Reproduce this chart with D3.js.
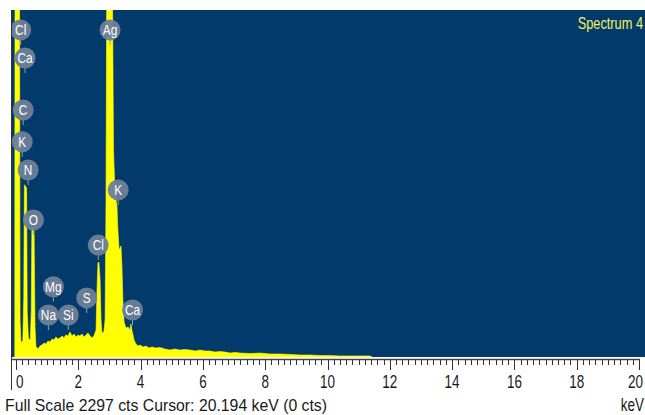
<!DOCTYPE html>
<html>
<head>
<meta charset="utf-8">
<script src="https://cdn.jsdelivr.net/npm/d3@7/dist/d3.min.js"></script>
<style>
  html, body { margin: 0; padding: 0; background: #ffffff; }
  svg { display: block; }
  text { font-family: "Liberation Sans", Arial, sans-serif; }
</style>
</head>
<body>
<svg id="chart" width="645" height="415"></svg>
<script>
// EDS spectrum: energy (keV) and counts
const energyKeV = [
  -0.04, -0.03, 0.11, 0.13, 0.16, 0.22, 0.25, 0.27, 0.34, 0.36, 0.40, 0.46, 0.49, 0.51, 0.58, 0.61, 0.64,
  0.71, 0.77, 0.83, 0.90, 0.96, 1.03, 1.09, 1.16, 1.22, 1.28, 1.35, 1.41, 1.48, 1.54, 1.60, 1.67, 1.73,
  1.80, 1.86, 1.93, 1.99, 2.05, 2.12, 2.18, 2.25, 2.31, 2.38, 2.44, 2.50, 2.57, 2.60, 2.63, 2.66, 2.70,
  2.73, 2.76, 2.82, 2.86, 2.89, 2.92, 3.08, 3.13, 3.18, 3.24, 3.27, 3.31, 3.34, 3.37, 3.40, 3.43, 3.47,
  3.53, 3.60, 3.65, 3.69, 3.72, 3.79, 3.85, 3.92, 3.98, 4.08, 4.17, 4.27, 4.37, 4.49, 4.62, 4.78, 4.94,
  5.10, 5.26, 5.42, 5.59, 5.75, 5.91, 6.07, 6.23, 6.39, 6.55, 6.71, 6.87, 7.03, 7.19, 7.51, 7.83, 8.15,
  8.48, 8.80, 9.12, 9.44, 9.76, 10.08, 10.40, 10.72, 11.04, 11.36, 11.43
];
const counts = [
  0, 3000, 3000, 240, 95, 110, 400, 1140, 1120, 300, 120, 115, 300, 860, 850, 200, 70,
  53, 73, 79, 93, 86, 106, 99, 119, 113, 132, 119, 126, 139, 126, 146, 139, 166,
  139, 152, 132, 146, 139, 152, 132, 146, 159, 139, 126, 139, 179, 444, 622, 629, 510,
  245, 159, 166, 245, 1039, 3000, 3000, 1370, 1072, 1006, 841, 708, 722, 735, 609, 377, 232,
  192, 199, 179, 218, 179, 113, 86, 73, 79, 66, 73, 60, 66, 60, 63, 53, 46,
  53, 46, 50, 46, 40, 46, 40, 40, 33, 36, 33, 26, 30, 26, 23, 26, 20,
  20, 17, 13, 13, 10, 10, 7, 7, 7, 7, 0
];

// Element markers
const markerNames = ["Cl", "Ca", "C", "K", "N", "O", "Mg", "Na", "Si", "S", "Cl", "K", "Ca", "Ag"];
const markerKeV   = [0.15, 0.29, 0.23, 0.20, 0.39, 0.56, 1.20, 1.04, 1.68, 2.27, 2.64, 3.28, 3.74, 3.02];
const markerCts   = [2165, 1979, 1635, 1425, 1238, 907, 465, 278, 278, 391, 741, 1106, 311, 2165];

const majorTicks = [0, 2, 4, 6, 8, 10, 12, 14, 16, 18, 20];
const tickLabels = ["0", "2", "4", "6", "8", "10", "12", "14", "16", "18", "20"];
const fullScale = 2297;
const spectrumName = "Spectrum 4";
const footer = "Full Scale 2297 cts  Cursor: 20.194 keV (0 cts)";
const unitLabel = "keV";

const svg = d3.select("#chart");
const plot = { left: 11, right: 645, top: 10, bottom: 357 };

const x = d3.scaleLinear().domain([0, 20]).range([16, 639]);
const y = d3.scaleLinear().domain([0, fullScale]).range([plot.bottom, plot.top]);

// plot background
svg.append("rect")
  .attr("x", plot.left).attr("y", plot.top)
  .attr("width", plot.right - plot.left).attr("height", plot.bottom - plot.top)
  .attr("fill", "#033a6c");

svg.append("clipPath").attr("id", "plotClip")
  .append("rect")
  .attr("x", plot.left).attr("y", plot.top)
  .attr("width", plot.right - plot.left).attr("height", plot.bottom - plot.top);

// spectrum
const spectrum = energyKeV.map((e, i) => ({ e, c: counts[i] }));
const area = d3.area()
  .x(d => x(d.e))
  .y0(y(0))
  .y1(d => y(d.c));

svg.append("path")
  .datum(spectrum)
  .attr("clip-path", "url(#plotClip)")
  .attr("d", area)
  .attr("fill", "#ffff00")
  .attr("stroke", "#ffff00")
  .attr("stroke-width", 0.6);

// element markers
const markers = svg.append("g").attr("clip-path", "url(#plotClip)");
markerNames.forEach((name, i) => {
  const cx = x(markerKeV[i]);
  const cy = y(markerCts[i]);
  const g = markers.append("g");
  g.append("line")
    .attr("x1", cx).attr("x2", cx)
    .attr("y1", cy + 9).attr("y2", cy + 15)
    .attr("stroke", "#8fa49a").attr("stroke-width", 1);
  g.append("circle")
    .attr("cx", cx).attr("cy", cy).attr("r", 10.5)
    .attr("fill", "#6f8098").attr("fill-opacity", 0.95);
  g.append("text")
    .attr("transform", `translate(${cx},${cy + 5}) scale(0.85,1)`)
    .attr("text-anchor", "middle")
    .attr("font-size", 14)
    .attr("fill", "#ffffff")
    .text(name);
});

// spectrum name
svg.append("text")
  .attr("transform", `translate(643,29) scale(0.8,1)`)
  .attr("text-anchor", "end")
  .attr("font-size", 16)
  .attr("fill", "#f2f25a")
  .text(spectrumName);

// frame and energy axis
svg.append("line")
  .attr("x1", plot.left + 0.5).attr("x2", plot.left + 0.5)
  .attr("y1", plot.top).attr("y2", 390)
  .attr("stroke", "#333333").attr("stroke-width", 1);

svg.append("line")
  .attr("x1", plot.left).attr("x2", 640)
  .attr("y1", 359.5).attr("y2", 359.5)
  .attr("stroke", "#444444").attr("stroke-width", 1.5);

const minorTicks = d3.range(0, 100.5, 1).map(v => v / 5).filter(v => v % 2 !== 0);
svg.append("g").selectAll("line").data(minorTicks).join("line")
  .attr("x1", d => Math.round(x(d)) + 0.5).attr("x2", d => Math.round(x(d)) + 0.5)
  .attr("y1", 360).attr("y2", 365)
  .attr("stroke", "#333333").attr("stroke-width", 1);

svg.append("g").selectAll("line").data(majorTicks).join("line")
  .attr("x1", d => Math.round(x(d)) + 0.5).attr("x2", d => Math.round(x(d)) + 0.5)
  .attr("y1", 360).attr("y2", 370)
  .attr("stroke", "#333333").attr("stroke-width", 1);

const lastTick = majorTicks.length - 1;
svg.append("g").selectAll("text").data(majorTicks).join("text")
  .attr("transform", (d, i) => `translate(${i === lastTick ? 643 : x(d)},388) scale(0.75,1)`)
  .attr("text-anchor", (d, i) => i === 0 ? "start" : (i === lastTick ? "end" : "middle"))
  .attr("font-size", 18)
  .attr("fill", "#1a1a1a")
  .text((d, i) => tickLabels[i]);

svg.append("text")
  .attr("transform", "translate(644,411) scale(0.75,1)")
  .attr("text-anchor", "end")
  .attr("font-size", 18)
  .attr("fill", "#1a1a1a")
  .text(unitLabel);

svg.append("text")
  .attr("x", 5).attr("y", 411)
  .attr("font-size", 17)
  .attr("fill", "#1a1a1a")
  .attr("textLength", 322)
  .attr("lengthAdjust", "spacingAndGlyphs")
  .text(footer);
</script>
</body>
</html>
